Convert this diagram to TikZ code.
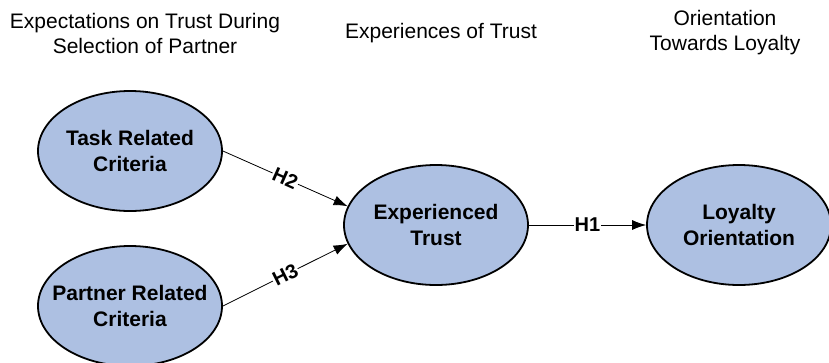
\documentclass[tikz,border=0pt]{standalone}
\usepackage{fontspec}
\setmainfont{Liberation Sans}
\usetikzlibrary{shapes.geometric,arrows.meta}
\definecolor{ellfill}{RGB}{173,192,226}
\tikzset{
  construct/.style={ellipse, draw=black, line width=1.8pt, fill=ellfill, minimum width=184pt, minimum height=120pt, inner xsep=-24pt, inner ysep=-10pt, align=center, font=\fontsize{21}{26}\selectfont\bfseries},
  header/.style={align=center, font=\fontsize{21}{25}\selectfont},
  link/.style={line width=0.8pt, -{Latex[length=14pt,width=10pt]}},
  hlabel/.style={fill=white, inner sep=1pt, font=\fontsize{20}{24}\selectfont\bfseries, sloped}
}
\begin{document}
\begin{tikzpicture}[x=1pt,y=-1pt]
\useasboundingbox (0,0) rectangle (829,362);
\node[header] (h1) at (145,33) {Expectations on Trust During\\Selection of Partner};
\node[header] (h2) at (441,33) {Experiences of Trust};
\node[header] (h3) at (725,33) {Orientation\\Towards Loyalty};
\node[construct] (task) at (130,151) {Task Related\\Criteria};
\node[construct] (partner) at (130,306) {Partner Related\\Criteria};
\node[construct] (exp) at (436,225) {Experienced\\Trust};
\node[construct] (loy) at (739,225) {Loyalty\\Orientation};
\draw[link] (task.east) -- node[hlabel] {H2} (exp.168);
\draw[link] (partner.east) -- node[hlabel] {H3} (exp.192);
\draw[link] (exp.east) -- node[hlabel] {H1} (loy.west);
\end{tikzpicture}
\end{document}
